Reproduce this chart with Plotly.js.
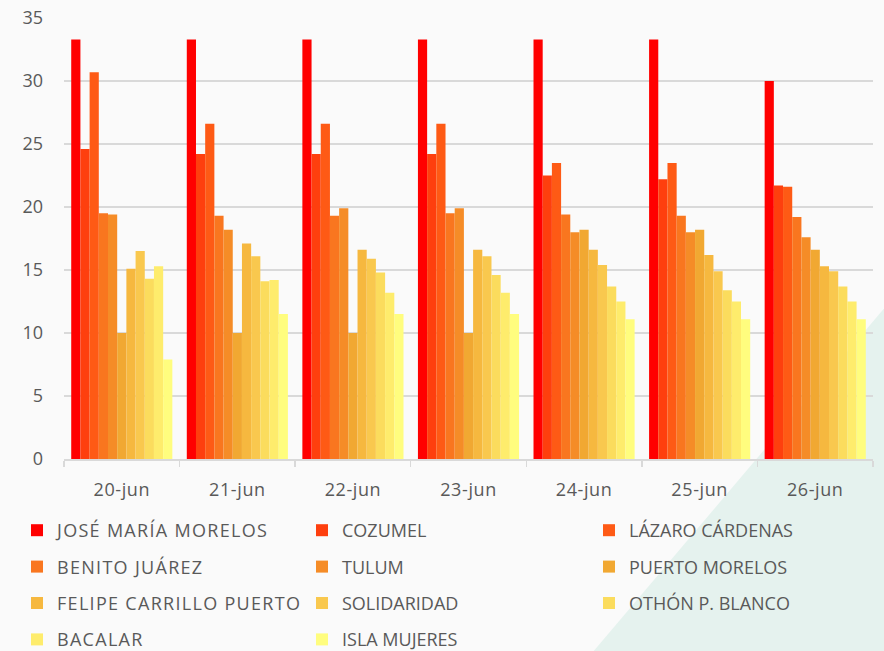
<!DOCTYPE html>
<html>
<head>
<meta charset="utf-8">
<script src="https://cdn.plot.ly/plotly-3.0.1.min.js"></script>
<style>
html,body{margin:0;padding:0;background:#FAFAFA;}
#chart{width:884px;height:651px;}
.legendtext{letter-spacing:1.3px;}
.xtick text{letter-spacing:0.6px;}
</style>
</head>
<body>
<div id="chart"></div>
<script>
const dates = ["20-jun","21-jun","22-jun","23-jun","24-jun","25-jun","26-jun"];

const names = ["JOSÉ MARÍA MORELOS","COZUMEL","LÁZARO CÁRDENAS","BENITO JUÁREZ","TULUM","PUERTO MORELOS","FELIPE CARRILLO PUERTO","SOLIDARIDAD","OTHÓN P. BLANCO","BACALAR","ISLA MUJERES"];

const joseMariaMorelos     = [33.3, 33.3, 33.3, 33.3, 33.3, 33.3, 30.0];
const cozumel              = [24.6, 24.2, 24.2, 24.2, 22.5, 22.2, 21.7];
const lazaroCardenas       = [30.7, 26.6, 26.6, 26.6, 23.5, 23.5, 21.6];
const benitoJuarez         = [19.5, 19.3, 19.3, 19.5, 19.4, 19.3, 19.2];
const tulum                = [19.4, 18.2, 19.9, 19.9, 18.0, 18.0, 17.6];
const puertoMorelos        = [10.0, 10.0, 10.0, 10.0, 18.2, 18.2, 16.6];
const felipeCarrilloPuerto = [15.1, 17.1, 16.6, 16.6, 16.6, 16.2, 15.3];
const solidaridad          = [16.5, 16.1, 15.9, 16.1, 15.4, 14.9, 14.9];
const othonPBlanco         = [14.3, 14.1, 14.8, 14.6, 13.7, 13.4, 13.7];
const bacalar              = [15.3, 14.2, 13.2, 13.2, 12.5, 12.5, 12.5];
const islaMujeres          = [7.9, 11.5, 11.5, 11.5, 11.1, 11.1, 11.1];

const seriesValues = [joseMariaMorelos, cozumel, lazaroCardenas, benitoJuarez, tulum, puertoMorelos, felipeCarrilloPuerto, solidaridad, othonPBlanco, bacalar, islaMujeres];

const colors = ["#FF0000","#FE3F0E","#FE5A15","#F9761F","#F58C27","#F1A832","#F6B83F","#F9C84E","#FBDC5D","#FEEC6C","#FFFD7E"];
// legend column of each series (3 columns, filled row by row)
const legendIds = ["legend","legend2","legend3","legend","legend2","legend3","legend","legend2","legend3","legend","legend2"];

const traces = names.map((n, i) => ({
  type: "bar",
  name: n,
  x: dates,
  y: seriesValues[i],
  marker: {color: colors[i], line: {width: 0}},
  legend: legendIds[i],
  legendgroup: "g" + i,
  hoverinfo: "x+y+name"
}));

const font = {family: "'Open Sans', 'Noto Sans', sans-serif", size: 18, color: "#595959"};

const ML = 64, MR = 11, MT = 18, MB = 192, W = 884, H = 651;
const plotW = W - ML - MR;

function leg(xPix) {
  return {
    orientation: "v",
    xref: "paper", yref: "container",
    x: (xPix - ML) / plotW, xanchor: "left",
    y: 1 - 512 / H, yanchor: "top",
    tracegroupgap: 10,
    font: font,
    bgcolor: "rgba(0,0,0,0)",
    traceorder: "grouped"
  };
}

const layout = {
  width: W, height: H,
  margin: {l: ML, r: MR, t: MT, b: MB},
  paper_bgcolor: "#FAFAFA",
  plot_bgcolor: "rgba(0,0,0,0)",
  font: font,
  barmode: "group",
  bargap: 0.125,
  bargroupgap: 0,
  showlegend: true,
  xaxis: {
    type: "category",
    showgrid: false,
    showline: true, linecolor: "#D9D9D9", linewidth: 1.5,
    ticks: "outside", tickson: "boundaries", ticklen: 6, tickcolor: "#D9D9D9", tickwidth: 1.5,
    ticklabelstandoff: 14,
    tickangle: 0,
    tickfont: font
  },
  yaxis: {
    range: [0, 35],
    dtick: 5, tick0: 0,
    showgrid: true, gridcolor: "#D9D9D9", gridwidth: 1.5,
    zeroline: false, showline: false, ticks: "",
    ticklabelstandoff: 20,
    tickfont: font
  },
  legend: leg(17),
  legend2: leg(302),
  legend3: leg(589),
  shapes: [{
    type: "path", xref: "paper", yref: "paper", layer: "below",
    path: "M 1.02 0.355 L 1.02 -0.45 L 0.648 -0.45 Z",
    fillcolor: "#E5F2EE", line: {width: 0}
  }]
};

Plotly.newPlot("chart", traces, layout, {displayModeBar: false, staticPlot: true});
</script>
</body>
</html>
